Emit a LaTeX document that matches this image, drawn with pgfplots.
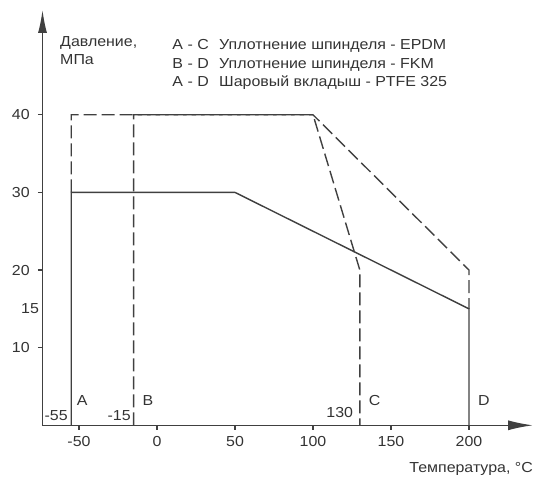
\documentclass[border=0pt]{standalone}
\usepackage{fontspec}
\setmainfont{Liberation Sans}
\usepackage{pgfplots}
\pgfplotsset{compat=1.18}
\usetikzlibrary{arrows.meta}
\definecolor{ln}{HTML}{404040}
\definecolor{tx}{HTML}{333333}
\tikzset{lbl/.style={inner sep=0pt, text=tx, font=\fontsize{14.5}{17}\selectfont, xscale=1.1}}
\begin{document}
\begin{tikzpicture}[x=1pt,y=1pt]
\useasboundingbox (0,0) rectangle (535,477);
\begin{axis}[
  at={(42.5pt,51.7pt)}, anchor=south west, scale only axis,
  width=490.5pt, height=415.3pt,
  xmin=-73.4, xmax=241, ymin=0, ymax=53.5,
  axis x line=bottom, axis y line=left,
  axis line style={ln, line width=1.4pt},
  x axis line style={-{Latex[length=25pt,width=10pt]}},
  y axis line style={-{Latex[length=23pt,width=9pt]}},
  xtick={-50,0,50,100,150,200},
  xticklabels={-50,0,50,100,150,200},
  ytick={10,20,30,40},
  yticklabels={10,20,30,40},
  tick align=outside, major tick length=4.5pt,
  tick style={ln, line width=1.2pt},
  tick label style={text=tx, font=\fontsize{14.5}{17}\selectfont, xscale=1.1},
  xticklabel style={yshift=-3pt},
  yticklabel style={xshift=-4pt},
  clip=false,
]
\addplot[ln, line width=1.4pt] coordinates {(-55,0) (-55,30) (50,30) (200,15) (200,0)};
\addplot[ln, line width=1.4pt, dash pattern=on 13pt off 5pt] coordinates {(-55,30) (-55,40) (100,40) (130,20) (130,0)};
\addplot[ln, line width=1.4pt, dash pattern=on 13pt off 5pt] coordinates {(-15,0) (-15,40) (100,40) (200,20) (200,15)};
\node[lbl, anchor=west, xshift=5pt] at (axis cs:-55,3.2) {A};
\node[lbl, anchor=west, xshift=8pt] at (axis cs:-15,3.2) {B};
\node[lbl, anchor=west, xshift=8pt] at (axis cs:130,3.2) {C};
\node[lbl, anchor=west, xshift=8pt] at (axis cs:200,3.2) {D};
\node[lbl, anchor=east, xshift=-3pt] at (axis cs:-55,1.3) {-55};
\node[lbl, anchor=east, xshift=-2.5pt] at (axis cs:-15,1.3) {-15};
\node[lbl, anchor=east, xshift=-6pt] at (axis cs:130,1.6) {130};
\node[lbl, anchor=east, xshift=-3pt] at (axis cs:-73.4,15) {15};
\end{axis}
\node[lbl, anchor=base west] at (60,430) {Давление,};
\node[lbl, anchor=base west] at (60,412.5) {МПа};
\node[lbl, anchor=base east] at (209,427) {A - C};
\node[lbl, anchor=base east] at (209,408.7) {B - D};
\node[lbl, anchor=base east] at (209,390.3) {A - D};
\node[lbl, anchor=base west] at (219,427) {Уплотнение шпинделя - EPDM};
\node[lbl, anchor=base west] at (219,408.7) {Уплотнение шпинделя - FKM};
\node[lbl, anchor=base west] at (219,390.3) {Шаровый вкладыш - PTFE 325};
\node[lbl, anchor=base east] at (533,4.5) {Температура, °C};
\end{tikzpicture}
\end{document}
